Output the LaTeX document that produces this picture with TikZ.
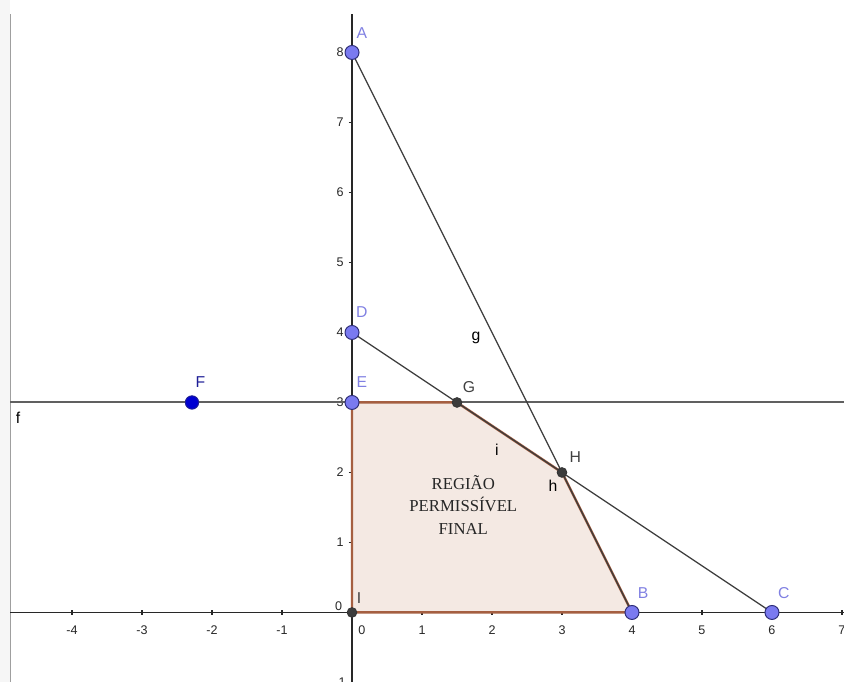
\documentclass[tikz,border=0pt]{standalone}
\usepackage{fontspec}
\setmainfont{Liberation Serif}
\setsansfont{Liberation Sans}
\usetikzlibrary{positioning,calc}
\definecolor{ggPoint}{RGB}{122,122,240}
\definecolor{ggPointEdge}{RGB}{45,45,120}
\definecolor{ggLabel}{RGB}{128,128,226}
\definecolor{ggBlue}{RGB}{0,0,210}
\definecolor{ggDarkBlue}{RGB}{30,30,150}
\definecolor{ggFill}{RGB}{244,233,227}
\definecolor{ggEdge}{RGB}{165,95,65}
\definecolor{ggAxis}{RGB}{40,40,40}
\definecolor{ggLine}{RGB}{60,60,60}
\tikzset{
  freept/.style={circle,fill=ggPoint,draw=ggPointEdge,line width=0.4pt,inner sep=0pt,minimum size=2mm},
  bluept/.style={circle,fill=ggBlue,draw=ggDarkBlue,line width=0.4pt,inner sep=0pt,minimum size=1.9mm},
  fixpt/.style={circle,fill=ggLine,draw=black!80,line width=0.3pt,inner sep=0pt,minimum size=1.4mm},
  ptlabel/.style={font=\sffamily\fontsize{6.4}{7}\selectfont,inner sep=0pt},
  ticklabel/.style={font=\sffamily\fontsize{5.1}{6}\selectfont,text=black!85,inner sep=0pt}
}
\begin{document}
\begin{tikzpicture}
  \def\xmin{-5.029}
  \def\xmax{7.029}
  \def\ymin{-0.993}
  \def\ymax{8.75}
  \def\xleft{-4.879}
  \useasboundingbox (\xmin,\ymin) rectangle (\xmax,\ymax);
  % panel border
  \fill[gray!7] (\xmin,\ymin) rectangle (\xleft-0.01,\ymax);
  \draw[gray!75,line width=0.6pt] (\xleft,\ymin) -- (\xleft,8.55);
  % points
  \coordinate (A) at (0,8);
  \coordinate (B) at (4,0);
  \coordinate (C) at (6,0);
  \coordinate (D) at (0,4);
  \coordinate (E) at (0,3);
  \coordinate (F) at (-2.286,3);
  \coordinate (G) at (1.5,3);
  \coordinate (H) at (3,2);
  \coordinate (I) at (0,0);
  \coordinate (fL) at (\xleft,3);
  \coordinate (fR) at (\xmax,3);
  % axes
  \draw[ggAxis,line width=0.45pt] (\xleft,0) -- (\xmax,0);
  \draw[ggAxis,line width=0.45pt] (0,\ymin) -- (0,8.55);
  \foreach \x in {-4,-3,-2,-1,1,2,3,4,5,6,7}{
    \draw[ggAxis,line width=0.45pt] (\x,-0.035) -- (\x,0.035);
    \node[ticklabel] at (\x,-0.25) {\x};
  }
  \node[ticklabel] at (0.14,-0.25) {0};
  \foreach \y in {-1,1,2,3,4,5,6,7,8}{
    \draw[ggAxis,line width=0.45pt] (-0.05,\y) -- (0,\y);
    \node[ticklabel] at (-0.17,\y) {\y};
  }
  \node[ticklabel] at (-0.19,0.09) {0};
  % line f
  \draw[gray!75!black,line width=0.8pt] (fL) -- (fR);
  % region
  \filldraw[fill=ggFill,draw=ggEdge,line width=1pt,line join=round] (I) -- (E) -- (G) -- (H) -- (B) -- cycle;
  % lines g and h
  \draw[ggLine,line width=0.5pt] (A) -- (B);
  \draw[ggLine,line width=0.5pt] (D) -- (C);
  % point marks
  \node[freept] (ptA) at (A) {};
  \node[freept] (ptB) at (B) {};
  \node[freept] (ptC) at (C) {};
  \node[freept] (ptD) at (D) {};
  \node[freept] (ptE) at (E) {};
  \node[bluept] (ptF) at (F) {};
  \node[fixpt] (ptG) at (G) {};
  \node[fixpt] (ptH) at (H) {};
  \node[fixpt] (ptI) at (I) {};
  % point labels
  \node[ptlabel,text=ggLabel] (lA) at ($(A)+(0.14,0.28)$) {A};
  \node[ptlabel,text=ggLabel] (lB) at ($(B)+(0.16,0.28)$) {B};
  \node[ptlabel,text=ggLabel] (lC) at ($(C)+(0.17,0.28)$) {C};
  \node[ptlabel,text=ggLabel] (lD) at ($(D)+(0.14,0.29)$) {D};
  \node[ptlabel,text=ggLabel] (lE) at ($(E)+(0.14,0.29)$) {E};
  \node[ptlabel,text=ggDarkBlue] (lF) at ($(F)+(0.12,0.29)$) {F};
  \node[ptlabel,text=black!75] (lG) at ($(G)+(0.17,0.22)$) {G};
  \node[ptlabel,text=black!75] (lH) at ($(H)+(0.19,0.22)$) {H};
  \node[ptlabel,text=black!75] (lI) at ($(I)+(0.1,0.21)$) {I};
  % object labels
  \node[ptlabel] (lg) at (1.77,3.92) {g};
  \node[ptlabel] (li) at (2.07,2.32) {i};
  \node[ptlabel] (lh) at (2.87,1.81) {h};
  \node[ptlabel] (lf) at (-4.77,2.78) {f};
  \node[font=\rmfamily\fontsize{6.8}{9.1}\selectfont,text=black!85,align=center] (region) at (1.59,1.54) {REGIÃO\\PERMISSÍVEL\\FINAL};
\end{tikzpicture}
\end{document}
